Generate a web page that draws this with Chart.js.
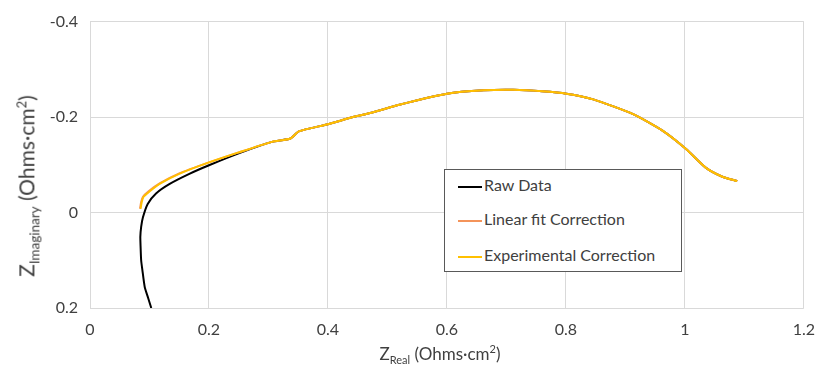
<!DOCTYPE html>
<html>
<head>
<meta charset="utf-8">
<script src="https://cdn.jsdelivr.net/npm/chart.js@4"></script>
<style>
  body { margin: 0; background: #fff; }
  .wrap { position: relative; width: 827px; height: 369px; font-family: Lato, "Open Sans", sans-serif; color: #404040; }
  canvas { position: absolute; left: 0; top: 0; }
  .ytitle { position: absolute; left: 28px; top: 186px; transform: translate(-50%, -50%) rotate(-90deg); font-size: 21px; white-space: nowrap; }
  .ytitle sub { font-size: 13.5px; }
  .ytitle sup { font-size: 13px; }
  .xtitle { position: absolute; left: 440px; top: 354px; transform: translate(-50%, -50%); font-size: 17px; white-space: nowrap; }
  .xtitle sub, .xtitle sup { font-size: 11px; }
  .legendBox { position: absolute; left: 444px; top: 169px; width: 236px; height: 101px; border: 1px solid #595959; background: #fff; }
  .legendBox .item { position: absolute; left: 13px; font-size: 16px; white-space: nowrap; }
  .legendBox .swatch { display: inline-block; width: 24px; height: 2px; vertical-align: middle; margin-right: 2px; }
</style>
</head>
<body>
<div class="wrap">
  <canvas id="nyquist" width="827" height="369"></canvas>
  <div class="ytitle">Z<sub>Imaginary</sub> (Ohms·cm<sup>2</sup>)</div>
  <div class="xtitle">Z<sub>Real</sub> (Ohms·cm<sup>2</sup>)</div>
  <div class="legendBox">
    <div class="item" style="top:5px"><span class="swatch" style="background:#000"></span>Raw Data</div>
    <div class="item" style="top:39px"><span class="swatch" style="background:#F4945A"></span>Linear fit Correction</div>
    <div class="item" style="top:75px"><span class="swatch" style="background:#FFC000"></span>Experimental Correction</div>
  </div>
</div>
<script>
// impedance data (Ohms·cm2)
var rawReal = [0.103, 0.098, 0.092, 0.088, 0.086, 0.085, 0.0846, 0.086, 0.089, 0.097, 0.111, 0.134, 0.167, 0.200, 0.250, 0.306, 0.337, 0.351, 0.400, 0.442, 0.473, 0.520, 0.600, 0.662, 0.712, 0.760, 0.801, 0.846, 0.913, 0.963, 1.002, 1.035, 1.063, 1.088];
var rawImag = [0.200, 0.180, 0.156, 0.120, 0.100, 0.070, 0.051, 0.030, 0.010, -0.018, -0.040, -0.060, -0.081, -0.099, -0.124, -0.148, -0.155, -0.170, -0.185, -0.200, -0.209, -0.226, -0.249, -0.256, -0.257, -0.254, -0.249, -0.237, -0.206, -0.171, -0.133, -0.094, -0.075, -0.066];

var linReal = [0.084, 0.086, 0.089, 0.099, 0.117, 0.150, 0.200, 0.250, 0.306, 0.337, 0.351, 0.400, 0.442, 0.473, 0.520, 0.600, 0.662, 0.712, 0.760, 0.801, 0.846, 0.913, 0.963, 1.002, 1.035, 1.063, 1.088];
var linImag = [-0.008, -0.022, -0.033, -0.045, -0.061, -0.082, -0.105, -0.126, -0.148, -0.155, -0.170, -0.185, -0.200, -0.209, -0.226, -0.249, -0.256, -0.257, -0.254, -0.249, -0.237, -0.206, -0.171, -0.133, -0.094, -0.075, -0.066];

var expReal = [0.085, 0.087, 0.090, 0.100, 0.117, 0.150, 0.200, 0.250, 0.306, 0.337, 0.351, 0.400, 0.442, 0.473, 0.520, 0.600, 0.662, 0.712, 0.760, 0.801, 0.846, 0.913, 0.963, 1.002, 1.035, 1.063, 1.088];
var expImag = [-0.008, -0.022, -0.033, -0.044, -0.060, -0.081, -0.105, -0.126, -0.148, -0.155, -0.170, -0.185, -0.200, -0.209, -0.226, -0.249, -0.256, -0.257, -0.254, -0.249, -0.237, -0.206, -0.171, -0.133, -0.094, -0.075, -0.066];

function toPoints(xs, ys) {
  return xs.map(function (x, i) {
    return { x: x, y: ys[i] };
  });
}

// 0 and 1 without trailing ".0"
function tickLabel(value) {
  return String(Number(value.toFixed(1)));
}

var ctx = document.getElementById("nyquist").getContext("2d");

var nyquist = new Chart(ctx, {
  type: "scatter",
  data: {
    datasets: [
      {
        label: "Raw Data",
        data: toPoints(rawReal, rawImag),
        borderColor: "#000000",
        order: 3,
      },
      {
        label: "Linear fit Correction",
        data: toPoints(linReal, linImag),
        borderColor: "#F4945A",
        order: 2,
      },
      {
        label: "Experimental Correction",
        data: toPoints(expReal, expImag),
        borderColor: "#FFC000",
        order: 1,
      },
    ],
  },
  options: {
    responsive: false,
    animation: false,
    showLine: true,
    layout: {
      padding: { top: 20, right: 18, left: 0, bottom: 0 },
    },
    elements: {
      point: { radius: 0 },
      line: { borderWidth: 2, tension: 0.2 },
    },
    plugins: {
      legend: { display: false },
      tooltip: { enabled: false },
    },
    scales: {
      x: {
        type: "linear",
        min: 0,
        max: 1.2,
        ticks: {
          stepSize: 0.2,
          color: "#404040",
          font: { family: "Lato", size: 16 },
          padding: 12,
          callback: tickLabel,
        },
        grid: { color: "#d9d9d9", drawTicks: false },
        border: { display: false },
        afterFit: function (scale) {
          scale.height = 61;
        },
      },
      y: {
        type: "linear",
        reverse: true,
        min: -0.4,
        max: 0.2,
        ticks: {
          stepSize: 0.2,
          color: "#404040",
          font: { family: "Lato", size: 16 },
          padding: 12,
          callback: tickLabel,
        },
        grid: { color: "#d9d9d9", drawTicks: false },
        border: { display: false },
        afterFit: function (scale) {
          scale.width = 90;
        },
      },
    },
  },
});
</script>
</body>
</html>
